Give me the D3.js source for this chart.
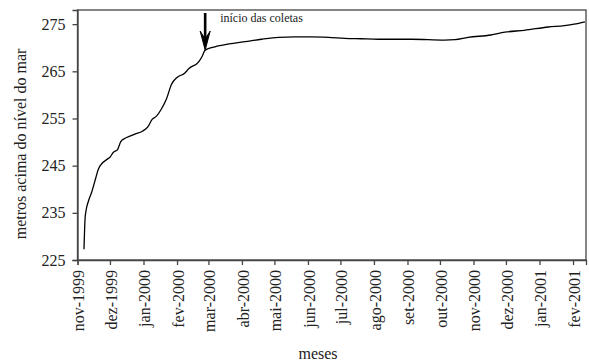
<!DOCTYPE html>
<html><head><meta charset="utf-8">
<script src="https://cdn.jsdelivr.net/npm/d3@7"></script>
<style>
html,body{margin:0;padding:0;background:#fff;}
svg{display:block;}
</style></head>
<body><svg id="c" width="589" height="362"></svg>
<script>
const dates = ["1999-11-07","1999-11-08","1999-11-09","1999-11-11","1999-11-14","1999-11-18","1999-11-20","1999-11-22","1999-11-30","1999-12-01","1999-12-04","1999-12-08","1999-12-11","1999-12-15","1999-12-20","1999-12-24","1999-12-31","2000-01-05","2000-01-09","2000-01-13","2000-01-17","2000-01-22","2000-01-27","2000-02-01","2000-02-08","2000-02-12","2000-02-21","2000-02-24","2000-02-27","2000-03-07","2000-03-20","2000-04-04","2000-04-19","2000-05-05","2000-05-20","2000-06-04","2000-06-20","2000-07-05","2000-07-20","2000-08-05","2000-08-23","2000-09-05","2000-10-05","2000-10-15","2000-10-27","2000-11-17","2000-11-30","2000-12-18","2001-01-09","2001-01-24","2001-02-02","2001-02-12"];
const levels = [227.3,233.8,235.6,237.4,239.3,242.5,244.1,245.0,246.6,246.8,247.8,248.4,250.1,250.8,251.3,251.7,252.3,253.2,254.8,255.5,256.8,259.0,262.3,263.7,264.6,265.6,267.0,268.1,269.5,270.2,270.8,271.3,271.8,272.2,272.3,272.3,272.2,272.0,271.9,271.8,271.8,271.8,271.6,271.7,272.2,272.7,273.3,273.7,274.4,274.7,275.0,275.5];
const monthLabels = ["nov-1999","dez-1999","jan-2000","fev-2000","mar-2000","abr-2000","mai-2000","jun-2000","jul-2000","ago-2000","set-2000","out-2000","nov-2000","dez-2000","jan-2001","fev-2001"];
const yTicks = [225,235,245,255,265,275];
const annotationText = "início das coletas";
const annotationDate = "2000-02-27";
const annotationLevel = 269.5;

const FONT = "Liberation Serif";
const parse = d3.timeParse("%Y-%m-%d");
const data = dates.map((d,i)=>({date:parse(d), v:levels[i]}));
const svg = d3.select("#c");
const L=77.5, R=586, T=10, B=260;
const x = d3.scaleTime().domain([new Date(1999,10,1), new Date(2001,1,13)]).range([L,R]);
const y = d3.scaleLinear().domain([225,278]).range([B,T]);
const monthDates = monthLabels.map((m,i)=>new Date(1999,10+i,1));

const axisColor="#444";
svg.append("rect").attr("x",L).attr("y",T).attr("width",R-L).attr("height",B-T)
  .attr("fill","none").attr("stroke",axisColor).attr("stroke-width",1.3);

const ya = svg.append("g").attr("transform",`translate(${L},0)`)
  .call(d3.axisLeft(y).tickValues(yTicks).tickSize(5).tickPadding(7).tickFormat(d3.format("d")));
ya.attr("font-family",FONT).attr("font-size",16);
ya.select(".domain").attr("stroke",axisColor).attr("stroke-width",1.3);
ya.selectAll(".tick line").attr("stroke",axisColor).attr("stroke-width",1.3);
ya.selectAll(".tick text").attr("fill","#222");

const xa = svg.append("g").attr("transform",`translate(0,${B})`)
  .call(d3.axisBottom(x).tickValues(monthDates).tickSize(5).tickFormat((d,i)=>monthLabels[i]));
xa.attr("font-family",FONT).attr("font-size",16);
xa.select(".domain").attr("stroke",axisColor).attr("stroke-width",1.3);
xa.selectAll(".tick line").attr("stroke",axisColor).attr("stroke-width",1.3);
xa.selectAll(".tick text").attr("fill","#222")
  .attr("text-anchor","end").attr("x",0).attr("y",0).attr("dx",null).attr("dy","0.4em")
  .attr("transform","translate(0,10) rotate(-90)");

svg.append("path").datum(data)
  .attr("fill","none").attr("stroke","#000").attr("stroke-width",1.3).attr("stroke-linejoin","round")
  .attr("d", d3.line().x(d=>x(d.date)).y(d=>y(d.v)).curve(d3.curveMonotoneX));

const ax = x(parse(annotationDate)), tipY = y(annotationLevel);
svg.append("line").attr("x1",ax).attr("x2",ax).attr("y1",T+3).attr("y2",tipY-8)
  .attr("stroke","#000").attr("stroke-width",2.6);
svg.append("path").attr("d",`M${ax},${tipY} L${ax-5},${tipY-19} L${ax},${tipY-11} L${ax+5},${tipY-19} Z`)
  .attr("fill","#000").attr("stroke","#000").attr("stroke-width",1);
svg.append("text").attr("x",ax+15).attr("y",22).attr("font-family",FONT).attr("font-size",12)
  .attr("fill","#222").text(annotationText);

svg.append("text").attr("transform","translate(26,144) rotate(-90)").attr("text-anchor","middle")
  .attr("font-family",FONT).attr("font-size",16).attr("fill","#222").text("metros acima do nível do mar");
svg.append("text").attr("x",318).attr("y",359).attr("text-anchor","middle")
  .attr("font-family",FONT).attr("font-size",16).attr("fill","#222").text("meses");
</script></body></html>
